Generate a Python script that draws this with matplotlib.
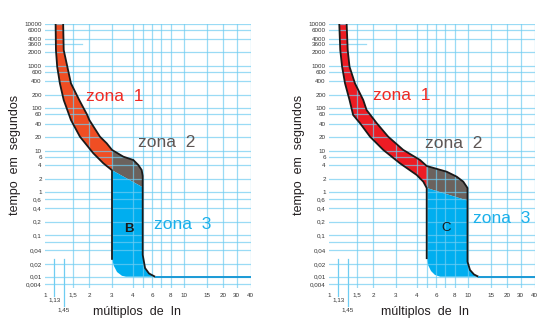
import numpy as np
import matplotlib.pyplot as plt

plt.rcParams['font.family'] = ['Liberation Sans', 'DejaVu Sans']

# --- tick values / labels ---
x_ticks = [1, 1.5, 2, 3, 4, 6, 8, 10, 15, 20, 30, 40]
x_labels = ['1', '1,5', '2', '3', '4', '6', '8', '10', '15', '20', '30', '40']
x_grid = [1.5, 2, 3, 4, 5, 6, 7, 8, 10, 15, 20, 30, 40]
x_marks = [1.13, 1.45]
x_mark_labels = ['1,13', '1,45']

y_ticks = [10000, 6000, 4000, 3600, 2000, 1000, 600, 400, 200, 100, 60, 40, 20,
           10, 6, 4, 2, 1, 0.6, 0.4, 0.2, 0.1, 0.04, 0.02, 0.01, 0.004]
y_labels = ['10000', '6000', '4000', '3600', '2000', '1000', '600', '400', '200',
            '100', '60', '40', '20', '10', '6', '4', '2', '1', '0,6', '0,4',
            '0,2', '0,1', '0,04', '0,02', '0,01', '0,004']
y_grid = [10000, 6000, 4000, 2000, 1000, 600, 400, 200, 100, 60, 40, 20, 10, 6,
          4, 2, 1, 0.6, 0.4, 0.2, 0.1, 0.06, 0.04, 0.02, 0.01, 0.004]
short_line_t = 3600
short_line_x = [1, 1.75]

# --- curva B (3..5 In) ---
b_lower_x = [1.17, 1.18, 1.22, 1.31, 1.45, 1.48, 1.49, 1.7, 2.15, 2.57, 3.0]
b_lower_t = [10000, 2340, 922, 357, 152, 58.3, 47.3, 20, 8.01, 4.35, 3.1]
b_upper_x = [1.43, 1.45, 1.47, 1.49, 1.68, 1.93, 2.0, 2.42, 2.73, 3.0, 3.52,
             4.07, 4.54, 4.89, 5.0]
b_upper_t = [10000, 2340, 922, 357, 152, 58.3, 47.3, 20, 14.4, 10.4, 6.0,
             5.11, 4.0, 3.14, 2.35]
b_diag_x = [3.0, 5.0]
b_diag_t = [3.1, 1.28]
b_right_x = [5.0, 5.23, 5.64, 6.29]
b_right_t = [0.032, 0.016, 0.0119, 0.01]
b_left_x = [3.0, 3.08, 3.22, 3.45, 3.65]
b_left_t = [0.026, 0.018, 0.0129, 0.0105, 0.01]

# --- curva C (5..10 In) ---
c_lower_x = [1.16, 1.19, 1.25, 1.35, 1.46, 1.48, 1.59, 1.89, 2.39, 3.17, 4.02,
             4.64, 5.0]
c_lower_t = [10000, 2340, 922, 357, 152, 58.3, 41.2, 20, 10.4, 4.35, 2.46,
             1.75, 1.23]
c_upper_x = [1.41, 1.45, 1.46, 1.49, 1.68, 1.78, 2.13, 2.61, 3.32, 4.32, 5.0,
             7.14, 8.31, 9.3, 10.0]
c_upper_t = [10000, 2340, 922, 357, 152, 83.7, 41.2, 20, 10.4, 5.11, 3.81,
             2.89, 2.27, 1.75, 1.23]
c_diag_x = [5.0, 10.0]
c_diag_t = [1.23, 0.56]
c_right_x = [10.0, 10.45, 11.2, 12.1]
c_right_t = [0.0225, 0.0144, 0.0113, 0.01]
c_left_x = [5.0, 5.13, 5.43, 5.85, 6.4]
c_left_t = [0.027, 0.0189, 0.0136, 0.011, 0.01]

t_inst = 0.01
x_max = 40

# printed grid spacing is log-like but not uniform
x_knots = [1, 1.13, 1.45, 1.5, 2, 3, 4, 5, 6, 7, 8, 10, 15, 20, 30, 40]
x_knot_pos = [0, 9.3, 18.7, 27.7, 44.3, 67, 87.5, 97.7, 107.3, 116.3, 125.5,
              138.5, 161.7, 178, 191.5, 205.5]
y_knots = [0.004, 0.01, 0.02, 0.04, 0.06, 0.1, 0.2, 0.4, 0.6, 1, 2, 4, 6, 10,
           20, 40, 60, 100, 200, 400, 600, 1000, 2000, 3600, 4000, 6000, 10000]
y_knot_pos = [3.5, 11.3, 24, 37.5, 46, 53, 66.3, 79.7, 89, 96.3, 108.7, 123,
              131.3, 137.3, 151.3, 164, 173.7, 180.3, 193, 207, 216, 222.3,
              235.7, 244.3, 249.3, 258, 264]


def knot_scale(knots, pos):
    lk = np.log10(knots)
    p = np.asarray(pos, float)
    s0 = (p[1] - p[0]) / (lk[1] - lk[0])
    s1 = (p[-1] - p[-2]) / (lk[-1] - lk[-2])

    def fwd(v):
        v = np.log10(np.clip(np.asarray(v, float), 1e-9, None))
        out = np.interp(v, lk, p)
        out = np.where(v < lk[0], p[0] + (v - lk[0]) * s0, out)
        out = np.where(v > lk[-1], p[-1] + (v - lk[-1]) * s1, out)
        return out

    def inv(q):
        q = np.asarray(q, float)
        out = np.interp(q, p, lk)
        out = np.where(q < p[0], lk[0] + (q - p[0]) / s0, out)
        out = np.where(q > p[-1], lk[-1] + (q - p[-1]) / s1, out)
        return 10 ** out

    return fwd, inv


grid_c = '#6fcdf2'
red_b = '#f04e23'
red_c = '#ed1c24'
gray = '#6b625d'
blue = '#00aeef'
blue_line = '#1b9ad6'
ink = '#231f20'


def draw_chart(ax, lower, upper, diag, right, left, red, letter, letter_bold,
               txt_pos):
    ax.set_xscale('function', functions=knot_scale(x_knots, x_knot_pos))
    ax.set_yscale('function', functions=knot_scale(y_knots, y_knot_pos))
    ax.set_xlim(1, x_max)
    ax.set_ylim(0.00265, 10000)
    for s in ax.spines.values():
        s.set_visible(False)

    lx, lt = lower
    ux, ut = upper
    dx, dt = diag
    rx, rt = right
    fx, ft = left
    k = ux.index(dx[0])

    # zona 1 / zona 2 / zona 3
    ax.fill(lx + ux[:k + 1][::-1], lt + ut[:k + 1][::-1], color=red, lw=0,
            zorder=1)
    ax.fill(ux[k:] + dx[::-1], ut[k:] + dt[::-1], color=gray, lw=0, zorder=1)
    ax.fill(dx + rx + fx[::-1], dt + rt + ft[::-1], color=blue, lw=0, zorder=1)

    for xv in x_grid:
        ax.axvline(xv, color=grid_c, lw=0.9, alpha=0.7, zorder=2)
    for yv in y_grid:
        ax.axhline(yv, color=grid_c, lw=0.9, alpha=0.7, zorder=2)
    ax.plot(short_line_x, [short_line_t] * 2, color=grid_c, lw=0.9, alpha=0.7,
            zorder=2)

    tr = ax.get_xaxis_transform()
    for xv, lab, yb, yl in zip(x_marks, x_mark_labels, [-0.029, -0.068],
                               [-0.046, -0.084]):
        ax.plot([xv, xv], [0.11, yb], transform=tr, color=grid_c, lw=0.9,
                clip_on=False, zorder=2)
        ax.text(xv, yl, lab, transform=tr, ha='center', va='center',
                fontsize=4.5, color='#333333')

    # outlines
    ax.plot(lx + [fx[0]], lt + [ft[0]], color='#1a1a1a', lw=1.3, zorder=3,
            solid_joinstyle='round')
    ax.plot(ux + rx, ut + rt, color='#1a1a1a', lw=1.3, zorder=3,
            solid_joinstyle='round')
    ax.plot([rx[-1], x_max], [t_inst, t_inst], color=blue_line, lw=1.4,
            zorder=3, solid_capstyle='butt')

    ax.set_xticks(x_ticks, x_labels)
    ax.set_yticks(y_ticks, y_labels)
    ax.minorticks_off()
    ax.tick_params(length=0, labelsize=4.5, labelcolor='#333333')
    ax.tick_params(axis='x', pad=3.4)
    ax.tick_params(axis='y', pad=2.4)

    (z1, z2, z3, zl, xl) = txt_pos
    ax.text(z1[0], z1[1], 'zona  1', transform=ax.transAxes, fontsize=12.5,
            color='#ee2a24', va='baseline', zorder=4)
    ax.text(z2[0], z2[1], 'zona  2', transform=ax.transAxes, fontsize=12.5,
            color='#5e5654', va='baseline', zorder=4)
    ax.text(z3[0], z3[1], 'zona  3', transform=ax.transAxes, fontsize=12.5,
            color='#1bb0ea', va='baseline', zorder=4)
    ax.text(zl[0], zl[1], letter, transform=ax.transAxes, fontsize=9.5,
            fontweight='bold' if letter_bold else 'normal', color='#1a1a1a',
            ha='center', va='center', zorder=4)
    ax.text(xl, -0.091, 'múltiplos  de  In', transform=ax.transAxes,
            fontsize=9, color=ink, ha='center', va='center')
    ax.text(-0.147, 0.504, 'tempo  em  segundos', transform=ax.transAxes,
            fontsize=9, color=ink, ha='center', va='center', rotation=90)


fig = plt.figure(figsize=(5.5, 3.3), dpi=100)
ax1 = fig.add_axes([45 / 550, 42 / 330, 205.5 / 550, 264 / 330])
ax2 = fig.add_axes([329 / 550, 42 / 330, 205.5 / 550, 264 / 330])

draw_chart(ax1, (b_lower_x, b_lower_t), (b_upper_x, b_upper_t),
           (b_diag_x, b_diag_t), (b_right_x, b_right_t), (b_left_x, b_left_t),
           red_b, 'B', True,
           ((0.198, 0.708), (0.451, 0.533), (0.532, 0.2235), (0.409, 0.2235),
            0.448))
draw_chart(ax2, (c_lower_x, c_lower_t), (c_upper_x, c_upper_t),
           (c_diag_x, c_diag_t), (c_right_x, c_right_t), (c_left_x, c_left_t),
           red_c, 'C', False,
           ((0.2127, 0.712), (0.467, 0.529), (0.699, 0.247), (0.569, 0.226),
            0.466))

fig.savefig('out.png', dpi=100)
